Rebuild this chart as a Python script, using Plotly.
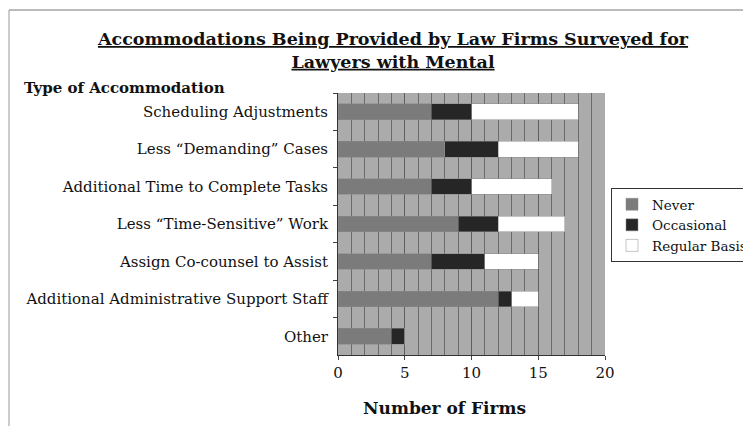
import plotly.graph_objects as go

categories = [
    "Scheduling Adjustments",
    "Less \u201cDemanding\u201d Cases",
    "Additional Time to Complete Tasks",
    "Less \u201cTime-Sensitive\u201d Work",
    "Assign Co-counsel to Assist",
    "Additional Administrative Support Staff",
    "Other",
]
never = [7, 8, 7, 9, 7, 12, 4]
occasional = [3, 4, 3, 3, 4, 1, 1]
regular = [8, 6, 6, 5, 4, 2, 0]

x_ticks = [0, 5, 10, 15, 20]

font_family = "DejaVu Serif"

# page body has an 8px margin, so the figure is drawn 8px in from the window
OFF = 8
W, H = 751 - OFF, 426 - OFF
# plot area in window pixels: x 338..605, y 93..355
L, R, T, B = 338 - OFF, 605 - OFF, 93 - OFF, 355 - OFF
pw, ph = R - L, B - T


def px_x(p):
    return (p - OFF - L) / pw


def px_y(p):
    return (B - (p - OFF)) / ph


fig = go.Figure()
series = [
    ("Never", never, "#7b7b7b"),
    ("Occasional", occasional, "#262626"),
    ("Regular Basis", regular, "#ffffff"),
]
for name, vals, color in series:
    fig.add_trace(go.Bar(
        y=categories, x=vals, name=name, orientation="h",
        marker=dict(color=color, line=dict(color="#8a8a8a", width=0.5)),
        width=0.42,
    ))

fig.update_layout(
    width=W, height=H,
    barmode="stack",
    paper_bgcolor="white",
    plot_bgcolor="#ababab",
    margin=dict(l=L, r=W - R, t=T, b=H - B, autoexpand=False),
    font=dict(family=font_family, size=15, color="#111"),
    title=dict(
        text="<u>Accommodations Being Provided by Law Firms Surveyed for</u><br><u>Lawyers with Mental</u>",
        x=(393 - OFF) / W, xanchor="center", y=1 - (45 - OFF) / H, yanchor="middle",
        font=dict(family=font_family, size=17.5, color="#111", weight="bold"),
    ),
    legend=dict(
        x=px_x(611), y=px_y(188), xanchor="left", yanchor="top",
        bordercolor="#333", borderwidth=1, bgcolor="white",
        font=dict(family=font_family, size=13.5),
        traceorder="normal", itemwidth=30, tracegroupgap=2,
    ),
    showlegend=True,
    annotations=[
        dict(
            text="<b>Type of Accommodation</b>", xref="paper", yref="paper",
            x=px_x(22), y=px_y(77), xanchor="left", yanchor="top", showarrow=False,
            font=dict(family=font_family, size=15, color="#111"),
        ),
        dict(
            text="<b>Number of Firms</b>", xref="paper", yref="paper",
            x=px_x(444), y=px_y(408), xanchor="center", yanchor="middle",
            showarrow=False, font=dict(family=font_family, size=17, color="#111"),
        ),
    ],
    shapes=[
        dict(type="line", xref="paper", yref="paper",
             x0=px_x(9), x1=px_x(751), y0=px_y(10), y1=px_y(10),
             line=dict(color="#777", width=1)),
        dict(type="line", xref="paper", yref="paper",
             x0=px_x(9), x1=px_x(9), y0=px_y(10), y1=px_y(426),
             line=dict(color="#999", width=1)),
    ],
)
fig.update_xaxes(
    range=[0, 20], tickvals=x_ticks, ticks="outside", ticklen=4,
    showgrid=True, gridcolor="#5e5e5e", gridwidth=1,
    minor=dict(dtick=1, showgrid=True, gridcolor="#6a6a6a", gridwidth=1),
    showline=True, linecolor="#333", zeroline=False,
    tickfont=dict(size=15),
)
fig.update_yaxes(
    autorange="reversed", ticks="outside", tickson="boundaries", ticklen=4,
    showgrid=False, showline=True, linecolor="#333",
    ticklabelstandoff=6, tickfont=dict(size=15),
)

fig.write_html("out.html")
